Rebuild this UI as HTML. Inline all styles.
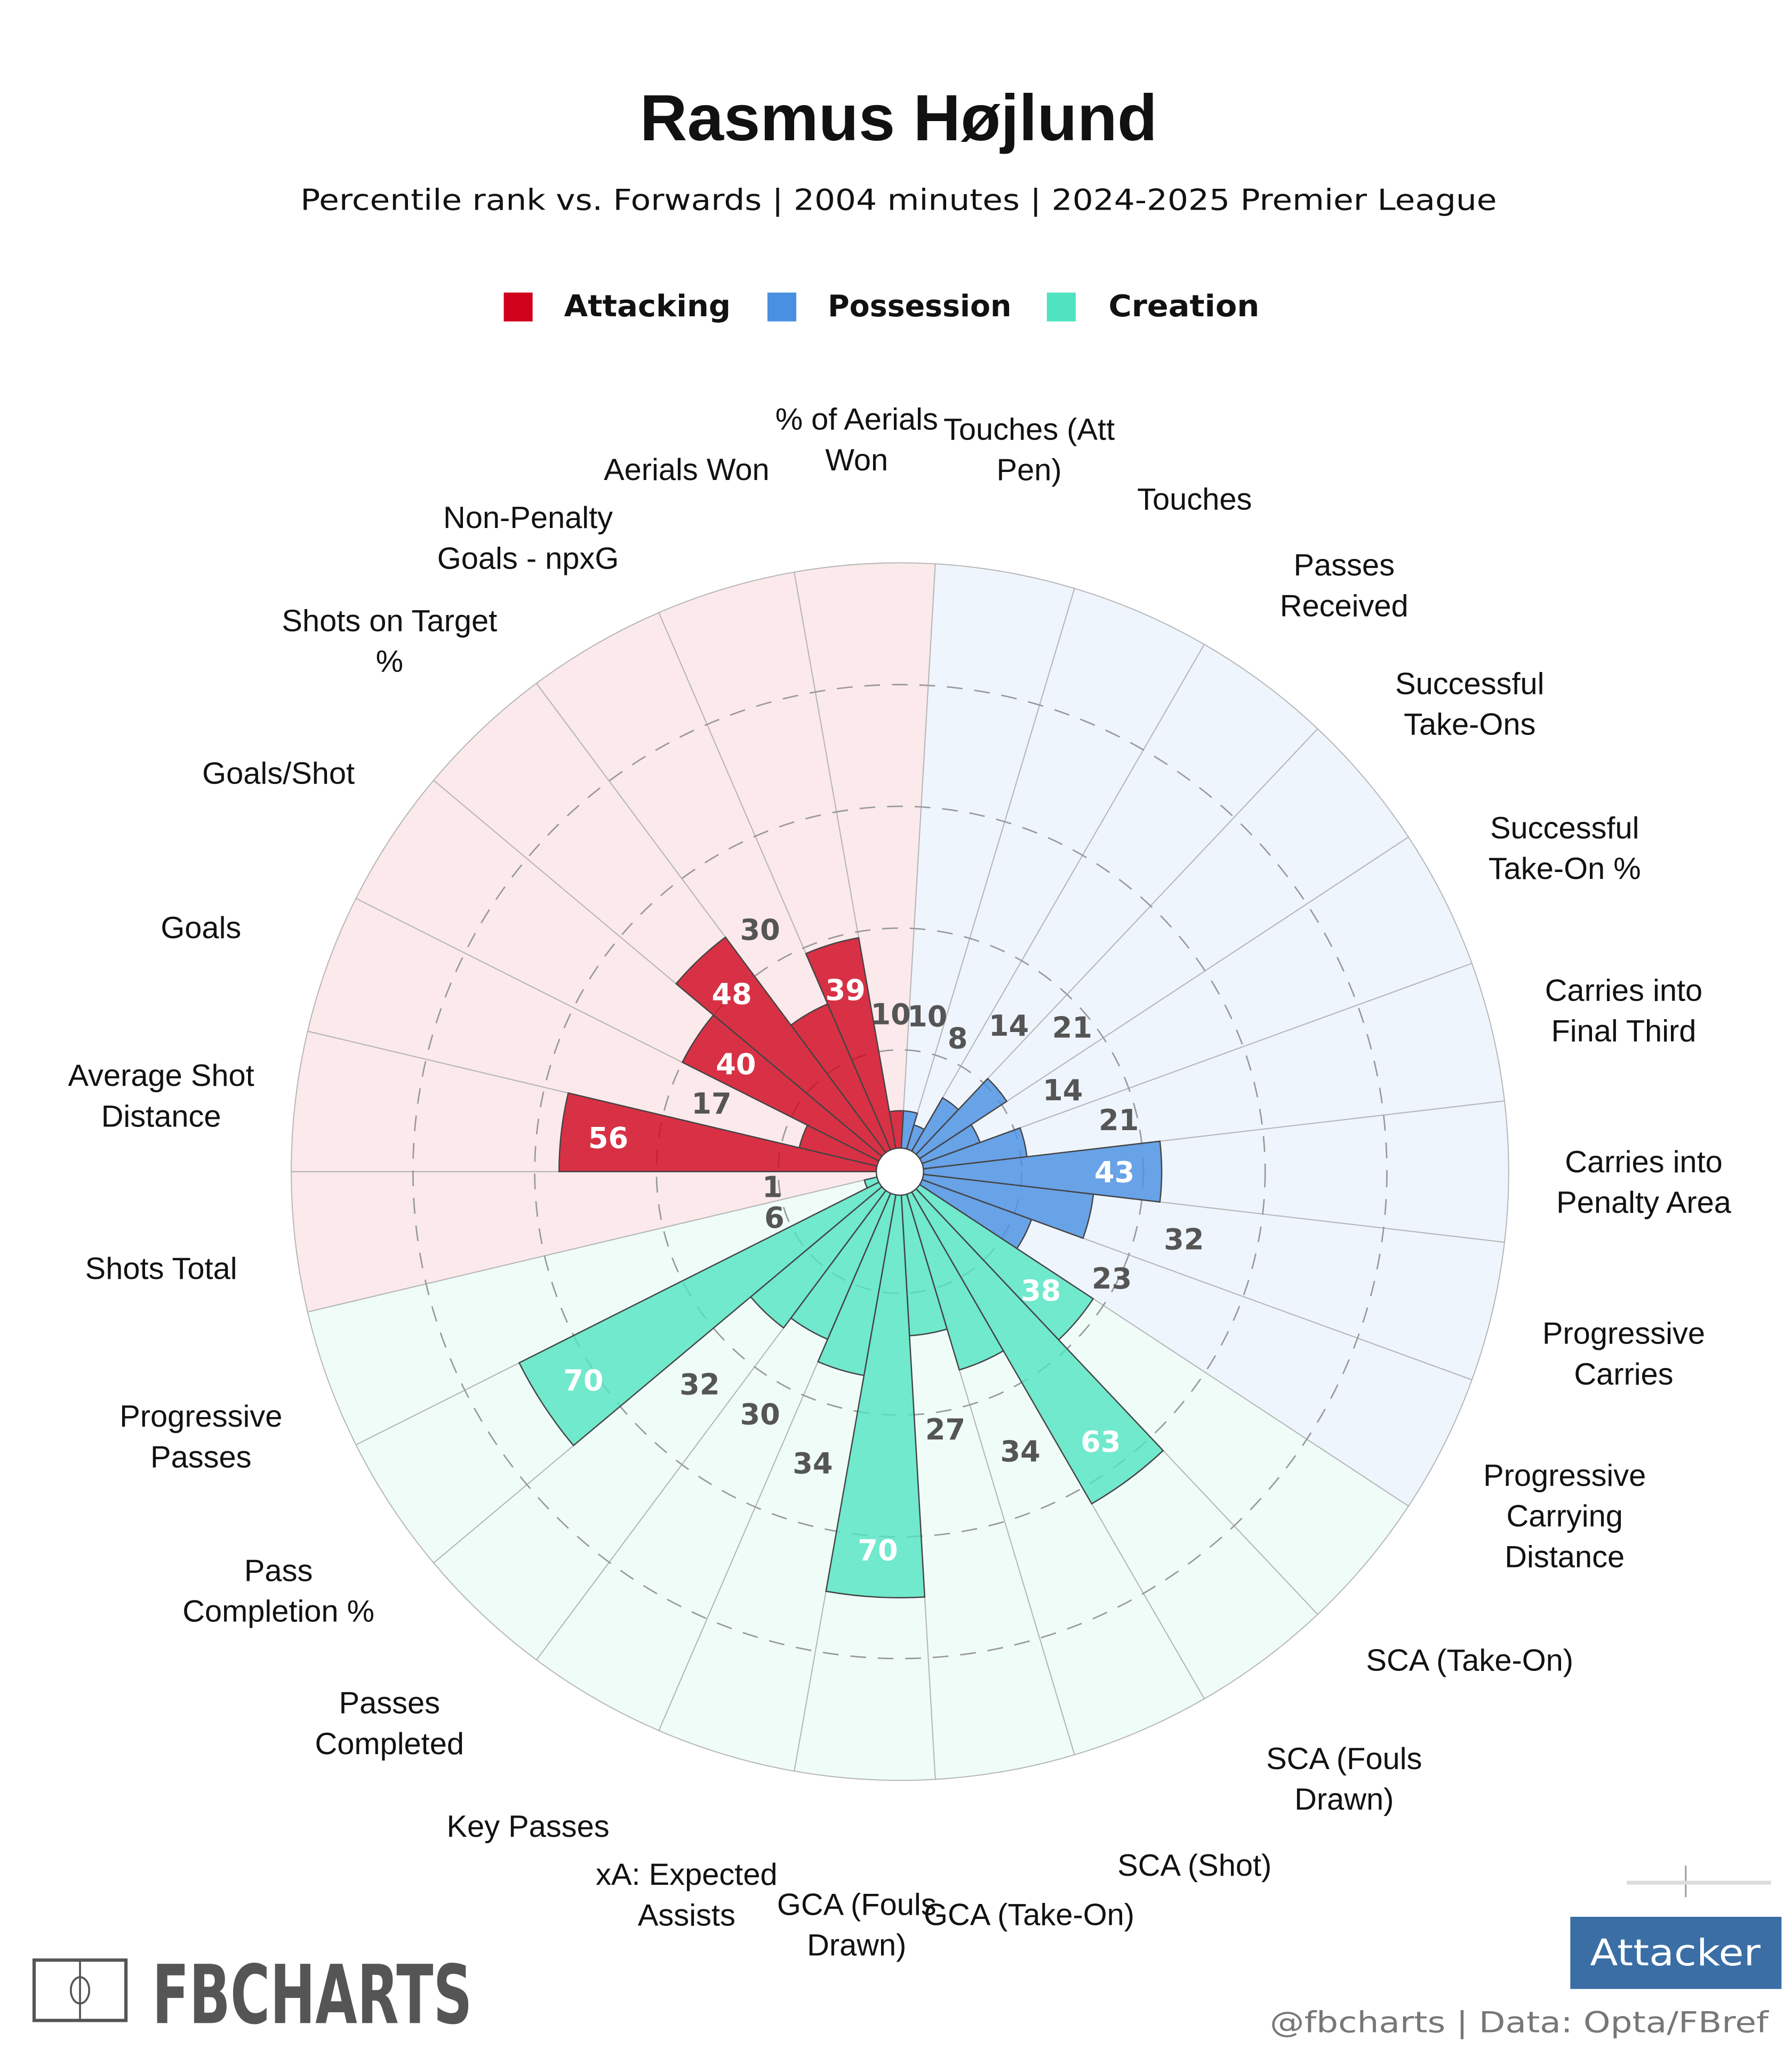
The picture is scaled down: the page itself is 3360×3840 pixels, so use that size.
<!DOCTYPE html>
<html><head><meta charset="utf-8"><style>
html,body{margin:0;padding:0;background:#fff;}
svg{display:block;}
</style></head><body>
<svg id="chart" xmlns="http://www.w3.org/2000/svg" width="3360" height="3840" viewBox="0 0 1366 1561" preserveAspectRatio="none">
<rect width="1366" height="1561" fill="#fff"/>
<text x="685" y="107" text-anchor="middle" font-family="Liberation Sans, sans-serif" font-weight="bold" font-size="50" fill="#111">Rasmus Højlund</text>
<text x="685" y="160" text-anchor="middle" font-family="DejaVu Sans, sans-serif" font-size="22" fill="#111" textLength="912" lengthAdjust="spacingAndGlyphs">Percentile rank vs. Forwards | 2004 minutes | 2024-2025 Premier League</text>
<g>
<rect x="384" y="223" width="22" height="22" fill="#d0021b"/>
<text x="430" y="241" font-family="DejaVu Sans, sans-serif" font-weight="bold" font-size="23" fill="#111" textLength="127" lengthAdjust="spacingAndGlyphs">Attacking</text>
<rect x="585" y="223" width="22" height="22" fill="#4a90e2"/>
<text x="631" y="241" font-family="DejaVu Sans, sans-serif" font-weight="bold" font-size="23" fill="#111" textLength="140" lengthAdjust="spacingAndGlyphs">Possession</text>
<rect x="798" y="223" width="22" height="22" fill="#50e3c2"/>
<text x="845" y="241" font-family="DejaVu Sans, sans-serif" font-weight="bold" font-size="23" fill="#111" textLength="115" lengthAdjust="spacingAndGlyphs">Creation</text>
</g>
<g id="radar"></g>
<g>
<rect x="26" y="1494" width="70" height="46" fill="none" stroke="#555" stroke-width="2.5"/>
<line x1="61" y1="1494" x2="61" y2="1540" stroke="#555" stroke-width="1.5"/>
<ellipse cx="61" cy="1517" rx="7" ry="10" fill="none" stroke="#555" stroke-width="1.5"/>
<text x="116" y="1542" font-family="DejaVu Sans, sans-serif" font-weight="bold" font-size="62" fill="#555" textLength="244" lengthAdjust="spacingAndGlyphs">FBCHARTS</text>
</g>
<line x1="1285" y1="1422" x2="1285" y2="1446" stroke="#999" stroke-width="1.2"/>
<line x1="1240" y1="1435" x2="1350" y2="1435" stroke="#ddd" stroke-width="3"/>
<rect x="1197" y="1461" width="161" height="55" fill="#3a6ea5"/>
<text x="1277" y="1498" text-anchor="middle" font-family="DejaVu Sans, sans-serif" font-size="28" fill="#fff" textLength="130" lengthAdjust="spacingAndGlyphs">Attacker</text>
<text x="1348" y="1549" text-anchor="end" font-family="DejaVu Sans, sans-serif" font-size="22" fill="#777" textLength="380" lengthAdjust="spacingAndGlyphs">@fbcharts | Data: Opta/FBref</text>
</svg>
<script>
const metricNames = ["Shots Total","Average Shot|Distance","Goals","Goals/Shot","Shots on Target|%","Non-Penalty|Goals - npxG","Aerials Won","% of Aerials|Won","Touches (Att|Pen)","Touches","Passes|Received","Successful|Take-Ons","Successful|Take-On %","Carries into|Final Third","Carries into|Penalty Area","Progressive|Carries","Progressive|Carrying|Distance","SCA (Take-On)","SCA (Fouls|Drawn)","SCA (Shot)","GCA (Take-On)","GCA (Fouls|Drawn)","xA: Expected|Assists","Key Passes","Passes|Completed","Pass|Completion %","Progressive|Passes"];
const percentiles = [1,56,17,40,48,30,39,10,10,8,14,21,14,21,43,32,23,38,63,34,27,70,34,30,32,70,6];
const metricGroups = ["att","att","att","att","att","att","att","att","pos","pos","pos","pos","pos","pos","pos","pos","pos","cre","cre","cre","cre","cre","cre","cre","cre","cre","cre"];
const ringValues = [20,40,60,80];

const NS = "http://www.w3.org/2000/svg";
const g = document.getElementById('radar');
const cx = 686, cy = 893, R = 464, hole = 18, startBearing = 256.667;
const N = percentiles.length, step = 360 / N;
const barFill = {att:"rgba(208,2,27,0.8)", pos:"rgba(74,144,226,0.82)", cre:"rgba(80,227,194,0.8)"};
const bgFill = {att:"#fbe9eb", pos:"#eff5fd", cre:"#effcf8"};
function rScale(v){ return v / 100 * R; }
function pt(b, r){ const a = b * Math.PI / 180; return [cx + r * Math.sin(a), cy - r * Math.cos(a)]; }
function wedge(b0, b1, r){
  const p0 = pt(b0, r), p1 = pt(b1, r);
  return `M${cx},${cy} L${p0[0]},${p0[1]} A${r},${r} 0 0 1 ${p1[0]},${p1[1]} Z`;
}
function mk(tag, attrs){ const e = document.createElementNS(NS, tag); for (const k in attrs) e.setAttribute(k, attrs[k]); g.appendChild(e); return e; }

for (let i = 0; i < N; i++){
  const b0 = startBearing + i * step, b1 = b0 + step;
  const e = mk('path', {d: wedge(b0, b1, R), fill: bgFill[metricGroups[i]], stroke: "#b5b5b5", "stroke-width": 0.8});
  
  
}
ringValues.forEach(v => {
  const e = mk('circle', {cx: cx, cy: cy, r: rScale(v), fill: "none", stroke: "#999", "stroke-width": 1.1, "stroke-dasharray": "12 9"});
  
  
});
for (let i = 0; i < N; i++){
  const b0 = startBearing + i * step, b1 = b0 + step;
  const e = mk('path', {d: wedge(b0, b1, rScale(percentiles[i])), fill: barFill[metricGroups[i]], stroke: "#444", "stroke-width": 1});
  
  
}
const h = mk('circle', {cx: cx, cy: cy, r: hole, fill: "#fff", stroke: "#444", "stroke-width": 1});


for (let i = 0; i < N; i++){
  const v = percentiles[i], bm = startBearing + (i + 0.5) * step;
  const inside = v >= 35;
  const r = inside ? rScale(v) - 36 : Math.max(rScale(v) + 74, 98);
  const p = pt(bm, r);
  const t = mk('text', {x: p[0], y: p[1] + 8, "text-anchor": "middle", "font-family": "DejaVu Sans, sans-serif", "font-weight": "bold", "font-size": 22, fill: inside ? "#fff" : "#555"});
  t.textContent = v;
  
  
}
for (let i = 0; i < N; i++){
  const bm = startBearing + (i + 0.5) * step;
  const a = bm * Math.PI / 180;
  const x = cx + 567 * Math.sin(a), y = cy + 8 - 567 * Math.cos(a);
  const lines = metricNames[i].split('|');
  const lh = 31, y0 = y - (lines.length - 1) * lh / 2 + 8;
  const t = mk('text', {x: x, y: y0, "text-anchor": "middle", "font-family": "Liberation Sans, sans-serif", "font-size": 23.5, fill: "#111"});
  
  
  lines.forEach((ln, j) => {
    const s = document.createElementNS(NS, 'tspan');
    s.setAttribute('x', x);
    s.setAttribute('y', y0 + j * lh);
    s.textContent = ln;
    t.appendChild(s);
  });
}
</script>
</body></html>
